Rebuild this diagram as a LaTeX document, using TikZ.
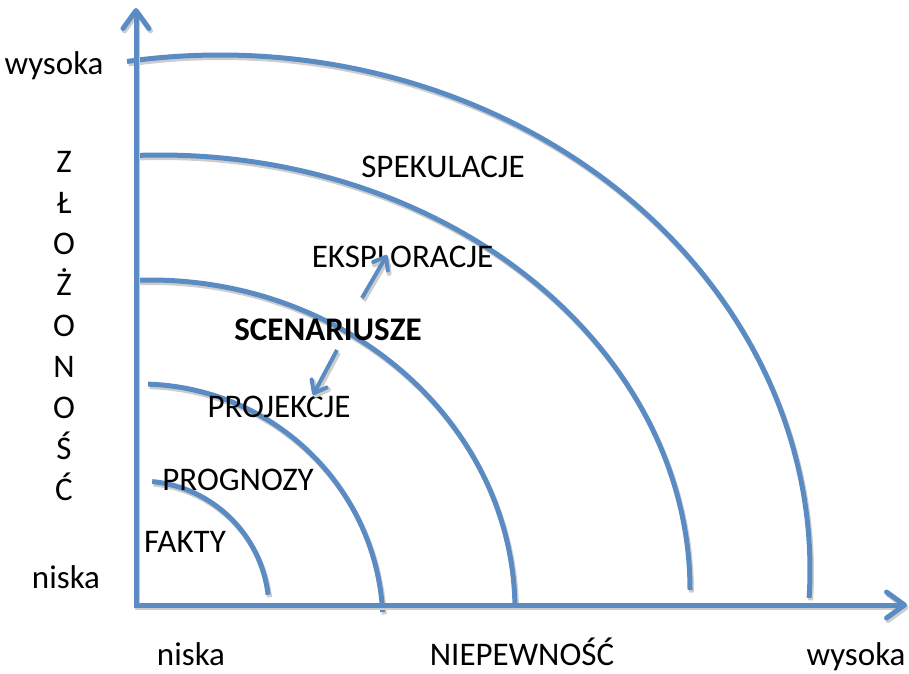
\documentclass[tikz,border=0pt]{standalone}
\usepackage{fontspec}
\setmainfont{Carlito}
\usetikzlibrary{arrows.meta}
\definecolor{axisblue}{RGB}{90,140,195}
\definecolor{shadowgray}{RGB}{205,205,205}
\begin{document}
\begin{tikzpicture}[x=1pt,y=1pt,
  bl/.style={draw=axisblue, line width=5pt,
    preaction={draw=shadowgray, line width=5pt, transform canvas={shift={(1.5pt,-2.5pt)}}}},
  ax/.style={bl, -{Straight Barb[length=18pt,width=26pt,round]}},
  sm/.style={bl, line width=4pt, -{Straight Barb[length=11pt,width=17pt,round]}},
  lbl/.style={inner sep=0pt, anchor=base, font=\fontsize{33}{40}\selectfont}]
\useasboundingbox (0,0) rectangle (909,673);
% axes
\coordinate (o1) at (136,66);
\coordinate (ytip) at (136,665);
\coordinate (o2) at (134,68);
\coordinate (xtip) at (907,68);
% arcs
\draw[bl] (220,103) ++(99.07:590 and 515) arc[start angle=99.07, end angle=-3.1, x radius=590, y radius=515];
\draw[bl] (160,83) ++(92.5:530 and 435) arc[start angle=92.5, end angle=0, x radius=530, y radius=435];
\draw[bl] (150,63) ++(92:365 and 330) arc[start angle=92, end angle=0.5, x radius=365, y radius=330];
\draw[bl] (140,48) ++(88.1:243 and 241) arc[start angle=88.1, end angle=3.1, x radius=243, y radius=241];
\draw[bl] (140,63) ++(84.6:129 and 129) arc[start angle=84.6, end angle=6.8, x radius=129, y radius=129];
\draw[ax] (o1) -- (ytip);
\draw[ax] (o2) -- (xtip);
% labels
\node[lbl] (spek) at (443,495) {SPEKULACJE};
\node[lbl] (eksp) at (402.5,406) {EKSPLORACJE};
\node[lbl, font=\fontsize{33}{40}\selectfont\bfseries] (scen) at (328,333) {SCENARIUSZE};
\node[lbl] (proj) at (279,256) {PROJEKCJE};
\node[lbl] (progn) at (238,183) {PROGNOZY};
\node[lbl] (fakty) at (185,121) {FAKTY};
\node[lbl] (wysL) at (54,598) {wysoka};
\node[lbl] (niskaL) at (66,85) {niska};
\node[lbl] (niskaB) at (191,8) {niska};
\node[lbl] (niep) at (522,8) {NIEPEWNOŚĆ};
\node[lbl] (wysB) at (856,8) {wysoka};
\foreach \ch [count=\i from 0] in {Z,Ł,O,Ż,O,N,O,Ś,Ć}
  \node[lbl] (zl\i) at (64,{500-40.9*\i}) {\ch};
% small arrows
\coordinate (s1) at (362,375);
\coordinate (e1) at (387,418);
\coordinate (s2) at (337,323);
\coordinate (e2) at (313,278);
\draw[sm] (s1) -- (e1);
\draw[sm] (s2) -- (e2);
\end{tikzpicture}
\end{document}
